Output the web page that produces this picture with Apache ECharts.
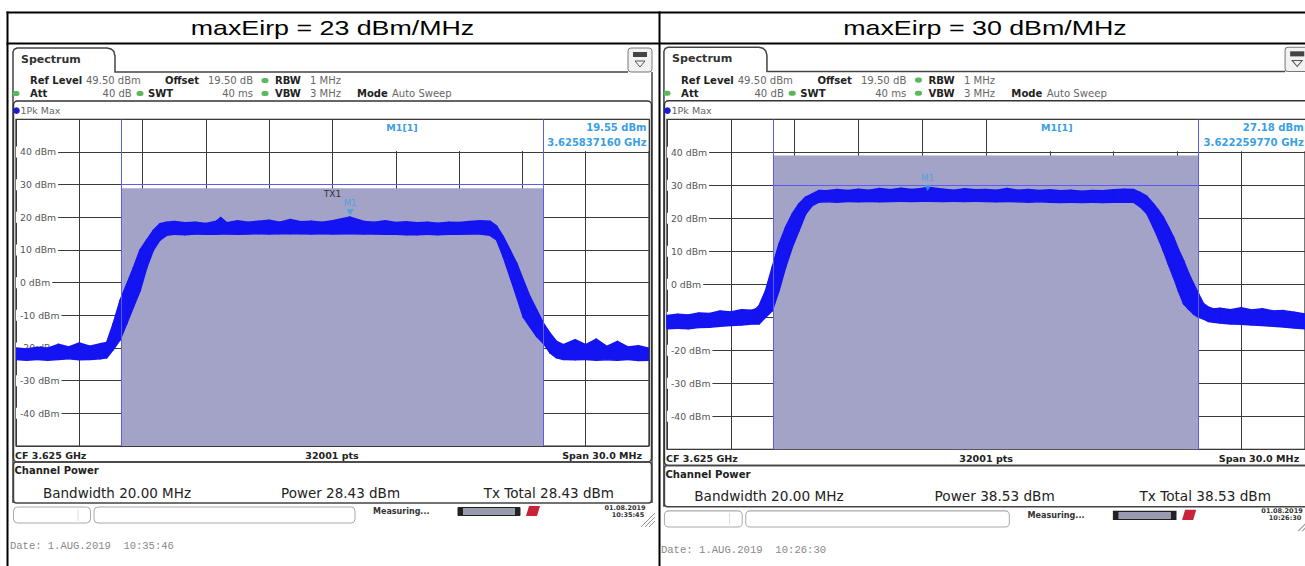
<!DOCTYPE html>
<html>
<head>
<meta charset="utf-8">
<script src="https://cdn.jsdelivr.net/npm/echarts@6.0.0/dist/echarts.min.js"></script>
<style>
html,body{margin:0;padding:0;background:#fff;overflow:hidden}
#chart{width:1305px;height:566px}
</style>
</head>
<body>
<div id="chart"></div>
<script>
// ---------------- data ----------------
const titles = ['maxEirp = 23 dBm/MHz', 'maxEirp = 30 dBm/MHz'];
const centerGHz = 3.625;
const spanMHz = 30;
const refLevel = 49.5;
const rangeDb = 100;
const xDivMHz = 3;
const yDivDb = 10;
const channelEdgesMHz = [-10, 10];
const channelPower = [28.43, 38.53];
const txTotal = [28.43, 38.53];
const bandwidthMHz = 20.00;
const limitLevel = 29.5;
const markerFreqGHz = [3.625837160, 3.622259770];
const markerLevel = [19.55, 27.18];
const stampTime = ['10:35:45', '10:26:30'];
const dateTime = ['10:35:46', '10:26:30'];

// 23 dBm/MHz trace: frequency offset (MHz from CF), lower / upper edge of the trace band (dBm)
const freq23 = [-15,-14.5,-14,-13.5,-13,-12.5,-12,-11.5,-11,-10.7,-10.39,-10.07,-9.75,-9.44,-9.12,-8.81,-8.49,-8.18,-7.86,-7.5,-7,-6.5,-6,-5.5,-5.3,-5,-4.5,-4,-3.5,-3,-2.5,-2,-1.5,-1,-0.5,0,0.84,1.5,2,2.5,3,3.5,4,4.5,5,5.5,6,6.5,7,7.46,7.78,8.09,8.41,8.73,9.04,9.36,9.68,9.99,10.31,10.62,10.94,11.5,12,12.5,13,13.5,14,14.5,15];
const lo23 = [-24.0,-24.2,-24.0,-24.2,-24.0,-23.8,-24.1,-24.0,-23.8,-23.5,-21.0,-18.0,-13.0,-8.0,-3.0,4.0,9.5,12.5,14.0,14.3,14.2,14.4,14.3,14.3,14.4,14.4,14.3,14.4,14.5,14.4,14.5,14.5,14.5,14.4,14.5,14.4,14.5,14.4,14.4,14.3,14.3,14.2,14.2,14.3,14.2,14.3,14.3,14.4,14.4,14.0,12.6,7.5,1.4,-4.8,-11.0,-14.0,-17.0,-19.0,-22.0,-23.5,-24.0,-24.1,-24.0,-24.2,-24.1,-24.2,-24.0,-24.3,-24.2];
const hi23 = [-20.5,-20.8,-20.3,-20.6,-19.4,-20.2,-19.0,-20.0,-19.2,-18.8,-13.0,-6.0,-1.0,4.0,9.5,12.5,15.5,17.5,18.0,18.2,17.8,18.0,17.6,18.3,19.4,17.8,18.4,18.0,18.3,18.6,18.0,18.8,18.1,18.3,18.0,18.4,19.55,18.2,18.0,18.4,17.9,18.1,17.8,18.0,17.7,18.0,17.9,18.2,18.4,18.3,16.8,13.6,9.5,5.4,0.3,-4.8,-8.9,-12.9,-16.0,-18.5,-19.5,-18.0,-19.5,-17.8,-20.0,-18.5,-20.2,-19.8,-20.6];

// 30 dBm/MHz trace
const freq30 = [-15,-14.5,-14,-13.5,-13,-12.5,-12,-11.5,-11,-10.83,-10.67,-10.36,-10.05,-9.73,-9.42,-9.11,-8.79,-8.48,-8.17,-7.85,-7.5,-7,-6.5,-6,-5.5,-5,-4.5,-4,-3.5,-3,-2.74,-2,-1.5,-1,-0.5,0,0.5,1,1.5,2,2.5,3,3.5,4,4.5,5,5.5,6,6.5,6.93,7.25,7.56,7.87,8.1,8.34,8.58,8.82,9.05,9.29,9.52,9.76,10.0,10.23,10.47,10.7,11,11.5,12,12.5,13,13.5,14,14.5,15];
const lo30 = [-14.0,-13.8,-14.0,-13.6,-13.5,-13.2,-13.0,-12.8,-12.5,-12.5,-12.5,-10.5,-8.5,-2.4,4.7,10.7,15.8,20.8,23.4,24.4,24.5,24.4,24.6,24.5,24.6,24.5,24.6,24.7,24.6,24.7,24.7,24.6,24.7,24.6,24.7,24.6,24.5,24.6,24.5,24.4,24.5,24.4,24.3,24.4,24.3,24.4,24.3,24.4,24.4,24.4,23.0,21.0,16.8,13.5,9.7,5.5,1.6,-2.5,-6.4,-8.0,-9.5,-10.5,-11.0,-11.8,-12.0,-12.2,-12.5,-12.6,-12.8,-13.0,-13.2,-13.4,-13.7,-14.0];
const hi30 = [-10.0,-9.6,-9.8,-9.2,-9.4,-8.6,-8.9,-8.2,-8.4,-8.0,-7.0,-2.4,4.7,11.7,16.8,20.8,23.9,25.9,26.9,27.9,27.8,28.2,27.9,28.3,28.0,28.5,28.1,28.6,28.2,28.5,28.9,28.3,28.0,28.4,28.1,28.2,28.0,28.5,28.0,28.2,27.9,28.1,27.8,28.0,27.7,27.9,27.8,28.1,28.3,28.2,27.3,26.2,23.9,22.0,19.8,16.8,13.7,10.0,6.7,3.0,-0.4,-3.5,-6.4,-7.5,-8.0,-7.8,-8.2,-7.6,-8.3,-7.9,-8.6,-8.5,-9.0,-9.5];

const traces = [[freq23, lo23, hi23], [freq30, lo30, hi30]];

// ---------------- layout ----------------
const BLUE = '#1414f2';
const CHAN = '#a2a3c6';
const MK = '#3a9fe3';
const FONT = 'DejaVu Sans';
const yMin = refLevel - rangeDb, yMax = refLevel;
const panels = [
  {ox: 0, oy: 0, s: 1},
  {ox: 650.8, oy: -1.2, s: 1.01}
];
const gridLocal = {left: 16, top: 119.3, width: 633, height: 326.7};

function fmt(v, d) { return v.toFixed(d); }

function chrome(i) {
  const p = panels[i];
  const ch = [];
  const T = (x, y, text, o) => {
    o = o || {};
    ch.push({
      type: 'text', x: x, y: y, z: o.z || 0, z2: 20,
      style: {
        text: text, fontFamily: o.family || FONT, fontSize: o.size || 10,
        fontWeight: o.bold ? 'bold' : 'normal', fill: o.color || '#666',
        align: o.align || 'left', verticalAlign: 'middle'
      }
    });
  };
  const L = (x1, y1, x2, y2, c, w) => ch.push({type: 'line', shape: {x1, y1, x2, y2}, style: {stroke: c || '#444', lineWidth: w || 1.5}});
  const R = (x, y, w, h, o) => ch.push({type: 'rect', z: (o && o.z) || 0, shape: {x, y, width: w, height: h, r: (o && o.r) || 0}, style: {fill: (o && o.fill) || null, stroke: (o && o.stroke) || null, lineWidth: (o && o.lw) || 1}});
  const dot = (x, y) => R(x - 3.5, y - 2.5, 7, 5, {fill: '#5cb85c', r: 2.5});

  // screen frame + tab
  ch.push({type: 'polyline', shape: {points: [[13, 503], [13, 52], [14.2, 49.2], [17, 48], [107, 48], [111, 49], [113.8, 51.5], [115, 56], [115, 72], [628, 72]]}, style: {stroke: '#444', lineWidth: 1.5, fill: null}});
  L(652, 72, 652, 503);
  R(628, 48, 24, 24, {fill: '#f2f2f2', stroke: '#777', r: 3});
  R(633, 52, 14, 5, {fill: '#444'});
  ch.push({type: 'polygon', shape: {points: [[635, 61], [645, 61], [640, 67]]}, style: {fill: null, stroke: '#555', lineWidth: 1}});
  T(21, 59.5, 'Spectrum', {bold: true, size: 11, color: '#333'});

  // parameter rows
  T(30, 80.5, 'Ref Level', {bold: true, color: '#222'});
  T(86, 80.5, fmt(refLevel, 2) + ' dBm');
  T(165, 80.5, 'Offset', {bold: true, color: '#222'});
  T(253, 80.5, '19.50 dB', {align: 'right'});
  dot(265, 80.5);
  T(275, 80.5, 'RBW', {bold: true, color: '#222'});
  T(310, 80.5, '1 MHz');
  dot(16, 93.5);
  T(30, 93.5, 'Att', {bold: true, color: '#222'});
  T(131.7, 93.5, '40 dB', {align: 'right'});
  dot(140, 93.5);
  T(148, 93.5, 'SWT', {bold: true, color: '#222'});
  T(253, 93.5, '40 ms', {align: 'right'});
  dot(265, 93.5);
  T(275, 93.5, 'VBW', {bold: true, color: '#222'});
  T(310, 93.5, '3 MHz');
  T(357, 93.5, 'Mode', {bold: true, color: '#222'});
  T(392, 93.5, 'Auto Sweep');

  // plot frame
  R(13.5, 101, 638, 361, {stroke: '#333', lw: 1.5, r: 4});
  ch.push({type: 'circle', shape: {cx: 16.5, cy: 110.7, r: 3.3}, style: {fill: '#1a1ad0'}});
  T(20.5, 110.7, '1Pk Max', {size: 9.5, color: '#666'});

  // marker info box (covers grid lines at top)
  R(334, 120, 314.5, 31, {fill: '#fff', z: 1});
  const mf = markerFreqGHz[i];
  T(402, 127, 'M1[1]', {bold: true, size: 9.5, color: MK, align: 'center', z: 1});
  T(646.5, 127, fmt(markerLevel[i], 2) + ' dBm', {bold: true, size: 10, color: MK, align: 'right', z: 1});
  T(646.5, 142, fmt(mf, 9) + ' GHz', {bold: true, size: 10, color: MK, align: 'right', z: 1});

  // bottom of diagram
  T(15, 455, 'CF ' + fmt(centerGHz, 3) + ' GHz', {bold: true, size: 9.5, color: '#222'});
  T(332, 455, '32001 pts', {bold: true, size: 9.5, color: '#222', align: 'center'});
  T(642, 455, 'Span ' + fmt(spanMHz, 1) + ' MHz', {bold: true, size: 9.5, color: '#222', align: 'right'});

  // channel power box
  R(13.5, 462, 638, 41, {stroke: '#444', lw: 1.5, r: 3});
  T(14.5, 470.5, 'Channel Power', {bold: true, size: 10, color: '#222'});
  T(43, 492.5, 'Bandwidth ' + fmt(bandwidthMHz, 2) + ' MHz', {size: 13.5, color: '#222'});
  T(281, 492.5, 'Power ' + fmt(channelPower[i], 2) + ' dBm', {size: 13.5, color: '#222'});
  T(614, 492.5, 'Tx Total ' + fmt(txTotal[i], 2) + ' dBm', {size: 13.5, color: '#222', align: 'right'});

  // status bar
  R(13.5, 507, 77, 16, {fill: '#fff', stroke: '#aaa', r: 4});
  L(78, 509, 78, 521, '#ddd', 1);
  R(94, 507, 261, 16, {fill: '#fff', stroke: '#aaa', r: 4});
  T(373, 511.5, 'Measuring...', {bold: true, size: 8, color: '#333'});
  R(458, 507.5, 62, 8, {fill: '#9a9aae', stroke: '#222', lw: 1});
  R(458, 507.5, 5, 8, {fill: '#222'});
  R(515, 507.5, 5, 8, {fill: '#222'});
  ch.push({type: 'polygon', shape: {points: [[526, 516], [529, 506], [540, 506], [537, 516]]}, style: {fill: '#c8233a'}});
  T(625, 507.5, '01.08.2019', {bold: true, size: 6.5, color: '#333', align: 'center'});
  T(628, 514.5, stampTime[i], {bold: true, size: 6.5, color: '#333', align: 'center'});
  L(641, 527, 655, 513, '#999', 1);
  L(645, 527, 655, 517, '#999', 1);
  L(649, 527, 655, 521, '#999', 1);

  T(10, 546, 'Date: 1.AUG.2019  ' + dateTime[i], {family: 'Liberation Mono', size: 10.5, color: '#888'});

  return {type: 'group', x: p.ox, y: p.oy, scaleX: p.s, scaleY: p.s, children: ch};
}

// table frame + titles
const tableEls = [
  {type: 'line', shape: {x1: 6.5, y1: 12.5, x2: 1305, y2: 12.5}, style: {stroke: '#000', lineWidth: 2}},
  {type: 'line', shape: {x1: 6.5, y1: 43.5, x2: 1305, y2: 43.5}, style: {stroke: '#000', lineWidth: 2}},
  {type: 'line', shape: {x1: 7.5, y1: 11.5, x2: 7.5, y2: 566}, style: {stroke: '#000', lineWidth: 2}},
  {type: 'line', shape: {x1: 659.5, y1: 11.5, x2: 659.5, y2: 566}, style: {stroke: '#000', lineWidth: 2}},
  {type: 'text', x: 332.5, y: 28.5, scaleX: 1.34, style: {text: titles[0], fontFamily: 'Liberation Sans', fontSize: 20, fill: '#000', align: 'center', verticalAlign: 'middle'}},
  {type: 'text', x: 985, y: 28.5, scaleX: 1.34, style: {text: titles[1], fontFamily: 'Liberation Sans', fontSize: 20, fill: '#000', align: 'center', verticalAlign: 'middle'}}
];

const grids = panels.map(p => ({
  left: p.ox + gridLocal.left * p.s,
  top: p.oy + gridLocal.top * p.s,
  width: gridLocal.width * p.s,
  height: gridLocal.height * p.s,
  show: true, borderColor: '#222', borderWidth: 1.2, containLabel: false
}));

const xAxes = panels.map((p, i) => ({
  gridIndex: i, type: 'value', min: -spanMHz / 2, max: spanMHz / 2, interval: xDivMHz,
  axisLabel: {show: false}, axisTick: {show: false}, axisLine: {show: false},
  splitLine: {show: true, lineStyle: {color: '#3a3a3a', width: 1}}
}));

const yAxes = panels.map((p, i) => ({
  gridIndex: i, type: 'value', min: yMin, max: yMax, interval: yDivDb,
  axisTick: {show: false}, axisLine: {show: false},
  splitLine: {show: true, lineStyle: {color: '#3a3a3a', width: 1}},
  axisLabel: {
    inside: true, margin: 0, showMinLabel: false, showMaxLabel: false,
    formatter: v => Math.round(v) + ' dBm',
    color: '#555', fontSize: 9.3, fontFamily: FONT,
    backgroundColor: '#fff', padding: [1, 2, 1, 4]
  }
}));

const series = [];
panels.forEach((p, i) => {
  const [f, lo, hi] = traces[i];
  series.push({
    type: 'line', xAxisIndex: i, yAxisIndex: i, data: [], silent: true, symbol: 'none',
    markArea: {
      silent: true,
      itemStyle: {color: CHAN, borderWidth: 0},
      label: {show: i === 0, position: 'insideTop', distance: 1, formatter: 'TX1', color: '#333', fontSize: 9, fontFamily: FONT},
      data: [[{xAxis: channelEdgesMHz[0], yAxis: yMin}, {xAxis: channelEdgesMHz[1], yAxis: channelPower[i]}]]
    },
    markLine: {
      silent: true, symbol: ['none', 'none'], label: {show: false},
      lineStyle: {color: '#5b5bf2', width: 1, type: 'solid'},
      data: [
        {xAxis: channelEdgesMHz[0]}, {xAxis: channelEdgesMHz[1]},
        [{coord: [channelEdgesMHz[0], limitLevel]}, {coord: [channelEdgesMHz[1], limitLevel]}]
      ]
    }
  });
  // trace band: each segment between two read points is a quad (upper edge forward, lower edge back)
  series.push({
    type: 'custom', xAxisIndex: i, yAxisIndex: i, z: 3, silent: true, clip: true,
    data: f.slice(0, -1).map((x, k) => [x, lo[k], hi[k], f[k + 1], lo[k + 1], hi[k + 1]]),
    encode: {x: [0, 3], y: [1, 2, 4, 5]},
    renderItem: (params, api) => {
      const a = api.coord([api.value(0), api.value(2)]);
      const b = api.coord([api.value(3), api.value(5)]);
      const c = api.coord([api.value(3), api.value(4)]);
      const d = api.coord([api.value(0), api.value(1)]);
      return {type: 'polygon', shape: {points: [a, b, c, d]}, style: {fill: BLUE, stroke: BLUE, lineWidth: 1.6, lineJoin: 'round'}};
    }
  });
  series.push({
    type: 'scatter', xAxisIndex: i, yAxisIndex: i, z: 6, silent: true,
    data: [[(markerFreqGHz[i] - centerGHz) * 1000, markerLevel[i]]],
    symbol: 'triangle', symbolRotate: 180, symbolSize: [7, 6], symbolOffset: [0, -5],
    itemStyle: {color: MK},
    label: {show: true, formatter: 'M1', position: 'top', distance: 2, color: MK, fontSize: 8.5, fontFamily: FONT}
  });
});

const chart = echarts.init(document.getElementById('chart'), null, {renderer: 'svg', width: 1305, height: 566});
chart.setOption({
  animation: false,
  backgroundColor: '#fff',
  textStyle: {fontFamily: FONT},
  grid: grids,
  xAxis: xAxes,
  yAxis: yAxes,
  series: series,
  graphic: {elements: tableEls.concat([chrome(0), chrome(1)])}
});
</script>
</body>
</html>
